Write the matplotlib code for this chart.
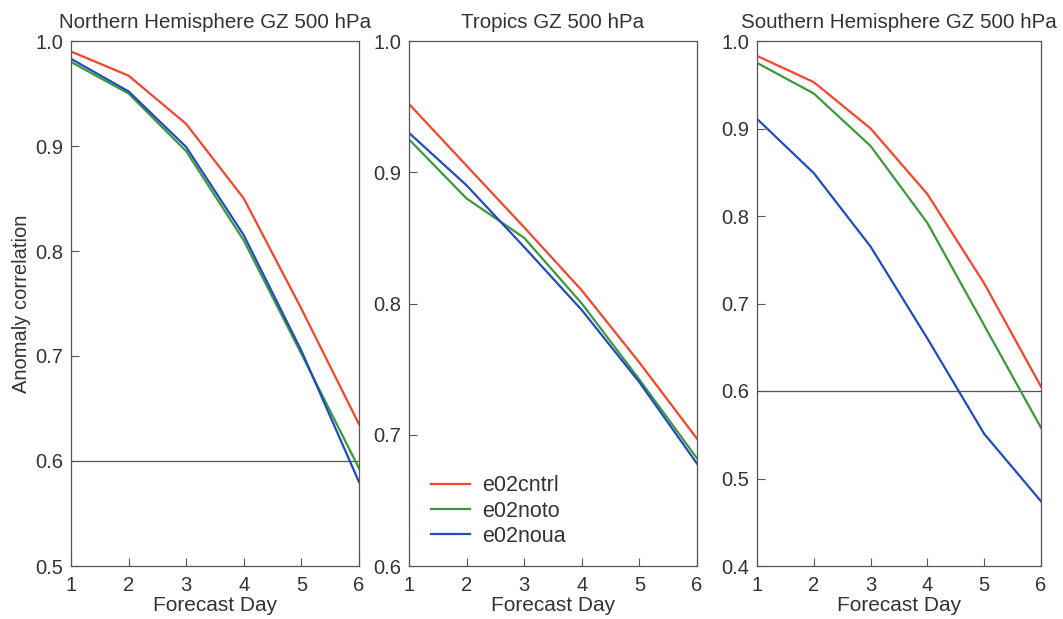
import numpy as np
import matplotlib.pyplot as plt

plt.rcParams['font.family'] = ['Liberation Sans', 'DejaVu Sans']

days = [1, 2, 3, 4, 5, 6]
series_names = ['e02cntrl', 'e02noto', 'e02noua']
colors = ['#f5452a', '#3a9a3a', '#1f4cc0']

# anomaly correlation, one list per experiment
nh_cntrl = [0.990, 0.967, 0.921, 0.850, 0.745, 0.635]
nh_noto = [0.980, 0.950, 0.895, 0.810, 0.702, 0.593]
nh_noua = [0.983, 0.952, 0.899, 0.815, 0.705, 0.580]

tr_cntrl = [0.952, 0.905, 0.858, 0.810, 0.755, 0.697]
tr_noto = [0.925, 0.880, 0.850, 0.800, 0.742, 0.682]
tr_noua = [0.930, 0.890, 0.843, 0.795, 0.740, 0.678]

sh_cntrl = [0.983, 0.953, 0.900, 0.825, 0.723, 0.605]
sh_noto = [0.975, 0.940, 0.880, 0.792, 0.675, 0.558]
sh_noua = [0.911, 0.849, 0.765, 0.660, 0.551, 0.474]

titles = ['Northern Hemisphere GZ 500 hPa', 'Tropics GZ 500 hPa', 'Southern Hemisphere GZ 500 hPa']
ylims = [(0.5, 1.0), (0.6, 1.0), (0.4, 1.0)]
ref_line = [0.6, None, 0.6]
panels = [[nh_cntrl, nh_noto, nh_noua],
          [tr_cntrl, tr_noto, tr_noua],
          [sh_cntrl, sh_noto, sh_noua]]

fig = plt.figure(figsize=(10.63, 6.19), dpi=100)
W, H = 1063, 619
boxes = [(71, 359), (409, 697), (757, 1041)]
top, bottom = 41, 566
txt = '#333333'

for i in range(3):
    x0, x1 = boxes[i]
    ax = fig.add_axes([x0 / W, 1 - bottom / H, (x1 - x0) / W, (bottom - top) / H])
    for vals, c, name in zip(panels[i], colors, series_names):
        ax.plot(days, vals, color=c, lw=1.6, label=name)
    if ref_line[i] is not None:
        ax.axhline(ref_line[i], color='#555555', lw=0.9, zorder=1)
    ax.set_xlim(1, 6)
    ax.set_ylim(*ylims[i])
    ax.set_xticks(days)
    ax.set_yticks(np.arange(ylims[i][0], ylims[i][1] + 0.001, 0.1))
    ax.yaxis.set_major_formatter(plt.FormatStrFormatter('%.1f'))
    ax.tick_params(direction='in', length=6, width=0.8, colors='#555555',
                   labelcolor=txt, labelsize=14.5)
    ax.tick_params(axis='x', pad=7.5)
    ax.tick_params(axis='y', pad=5.5)
    for s in ax.spines.values():
        s.set_color('#555555')
        s.set_linewidth(0.9)
    ax.set_title(titles[i], fontsize=14.8, color=txt, pad=9)
    ax.set_xlabel('Forecast Day', fontsize=15, color=txt, labelpad=0.5)
    if i == 0:
        ax.set_ylabel('Anomaly correlation', fontsize=14.5, color=txt, labelpad=3)
    if i == 1:
        ax.legend(loc='lower left', frameon=False, fontsize=15.5, handlelength=1.85,
                  handletextpad=0.55, labelspacing=0.2, borderaxespad=0,
                  bbox_to_anchor=(0.045, 0.02), labelcolor=txt)

fig.savefig('out.png', dpi=100)
